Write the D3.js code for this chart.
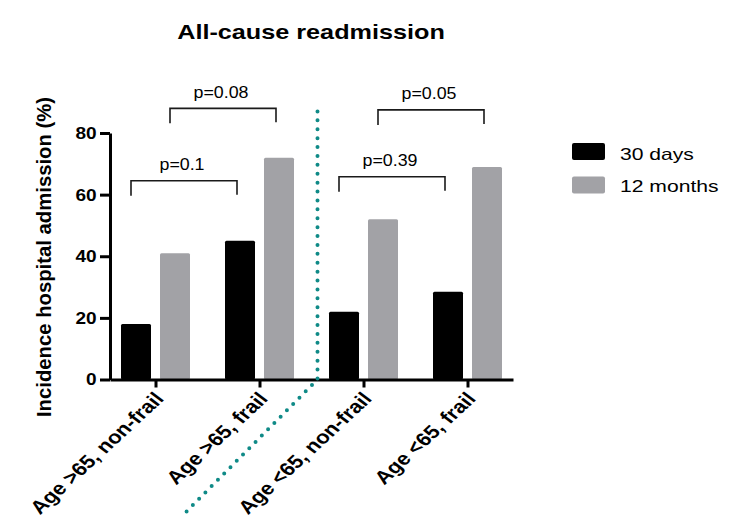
<!DOCTYPE html>
<html>
<head>
<meta charset="utf-8">
<script src="https://cdn.jsdelivr.net/npm/d3@7"></script>
<style>
  body { margin: 0; background: #fff; }
  text { font-family: "Liberation Sans", Arial, Helvetica, sans-serif; }
  .axis path, .axis line { stroke: #000; stroke-width: 3px; }
</style>
</head>
<body>
<script>
// data
var categories = ["Age >65, non-frail", "Age >65, frail", "Age <65, non-frail", "Age <65, frail"];
var days30 = [18, 45, 22, 28.5];
var months12 = [41, 72, 52, 69];
var seriesNames = ["30 days", "12 months"];
var yTicks = [0, 20, 40, 60, 80];

// significance brackets: which groups, which series, bracket level (%) and label
var pLabels = ["p=0.1", "p=0.08", "p=0.39", "p=0.05"];
var pFrom = [0, 0, 2, 2];
var pTo = [1, 1, 3, 3];
var pSeries = [0, 1, 0, 1];
var pLevel = [64.5, 88, 65.8, 87.5];

var width = 747, height = 518;
var colors = ["#000000", "#a2a2a6"];
var teal = "#0f8a87";

var svg = d3.select("body").append("svg")
    .attr("width", width).attr("height", height);

var x = d3.scalePoint()
    .domain(categories)
    .range([110, 513])
    .padding(0.4375);

var y = d3.scaleLinear()
    .domain([0, 80])
    .range([379.5, 133]);

var barW = 30;
var barOff = [-34.5, 4.5];   // left edge of each series bar relative to category

// bars
[days30, months12].forEach(function(vals, s) {
  svg.append("g").selectAll("rect")
    .data(vals)
    .enter().append("rect")
      .attr("x", function(d, i) { return x(categories[i]) + barOff[s]; })
      .attr("y", function(d) { return y(d); })
      .attr("width", barW)
      .attr("height", function(d) { return y(0) - y(d); })
      .attr("rx", 1.5)
      .attr("fill", colors[s]);
});

// y axis
var yAxis = d3.axisLeft(y)
    .tickValues(yTicks)
    .tickSize(10).tickSizeOuter(0).tickPadding(2);

var yG = svg.append("g")
    .attr("class", "axis")
    .attr("transform", "translate(110,0)")
    .call(yAxis);
yG.selectAll(".tick text")
    .attr("font-size", 17).attr("font-weight", "bold").attr("fill", "#000")
    .attr("font-family", "Liberation Sans, Arial, sans-serif")
    .attr("transform", "scale(1.12,1)");

// x axis
var xAxis = d3.axisBottom(x).tickSize(8).tickSizeOuter(0).tickFormat("");
var xG = svg.append("g")
    .attr("class", "axis")
    .attr("transform", "translate(0," + y(0) + ")")
    .call(xAxis);
xG.selectAll(".tick text").remove();
xG.selectAll(".tick").append("text")
    .attr("text-anchor", "end")
    .attr("font-size", 18.5).attr("font-weight", "bold").attr("fill", "#000")
    .attr("font-family", "Liberation Sans, Arial, sans-serif")
    .attr("transform", "translate(9,20) scale(1.2,1) rotate(-48)")
    .text(function(d) { return d; });

// y axis title
svg.append("text")
    .attr("transform", "translate(50.5,257) rotate(-90)")
    .attr("text-anchor", "middle")
    .attr("font-size", 20.3).attr("font-weight", "bold")
    .text("Incidence hospital admission (%)");

// chart title
svg.append("text")
    .attr("transform", "translate(311,39) scale(1.23,1)")
    .attr("text-anchor", "middle")
    .attr("font-size", 20.5).attr("font-weight", "bold")
    .text("All-cause readmission");

// divider between age groups (dotted)
var midX = (x(categories[1]) + x(categories[2])) / 2 + 6;
svg.append("path")
    .attr("d", d3.line()([[midX, y(87)], [midX, y(0)], [midX - 134, y(0) + 135]]))
    .attr("fill", "none")
    .attr("stroke", teal)
    .attr("stroke-width", 4)
    .attr("stroke-linecap", "round")
    .attr("stroke-linejoin", "round")
    .attr("stroke-dasharray", "0,8.9");

// significance brackets
var legLen = 15;
pLabels.forEach(function(lab, k) {
  var s = pSeries[k];
  var x0 = x(categories[pFrom[k]]) + barOff[s] + barW / 2 - 5;
  var x1 = x(categories[pTo[k]]) + barOff[s] + barW / 2 - 3;
  var yt = y(pLevel[k]);
  svg.append("path")
      .attr("d", d3.line()([[x0, yt + legLen], [x0, yt], [x1, yt], [x1, yt + legLen - 1]]))
      .attr("fill", "none")
      .attr("stroke", "#1a1a1a")
      .attr("stroke-width", 1.6);
  svg.append("text")
      .attr("transform", "translate(" + ((x0 + x1) / 2 - 2) + "," + (yt - 10.5) + ") scale(1.08,1)")
      .attr("text-anchor", "middle")
      .attr("font-size", 16.5)
      .text(lab);
});

// legend
var legend = svg.append("g").attr("transform", "translate(572,143)");
seriesNames.forEach(function(name, i) {
  legend.append("rect")
      .attr("x", 0).attr("y", i * 33.5)
      .attr("width", 33).attr("height", 17)
      .attr("rx", 2)
      .attr("fill", colors[i]);
  legend.append("text")
      .attr("transform", "translate(48," + (i * 32 + 17) + ") scale(1.28,1)")
      .attr("font-size", 16.5)
      .text(name);
});
</script>
</body>
</html>
